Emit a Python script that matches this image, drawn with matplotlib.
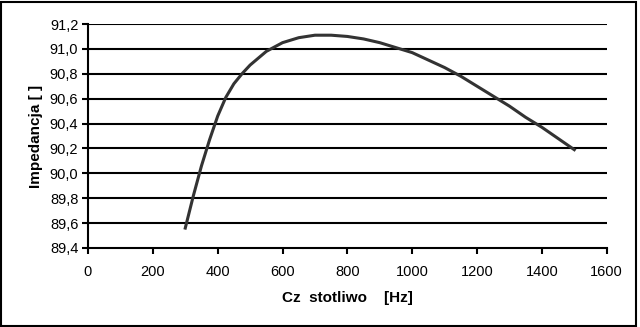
import matplotlib
matplotlib.use("Agg")
import matplotlib.pyplot as plt
from matplotlib.patches import Rectangle
from matplotlib.ticker import FuncFormatter

plt.rcParams['font.family'] = ['Liberation Sans', 'DejaVu Sans']

freq = [300, 325, 350, 375, 400, 425, 450, 475, 500, 550, 600, 650, 700, 750,
        800, 850, 900, 950, 1000, 1050, 1100, 1150, 1200, 1250, 1300, 1350,
        1400, 1450, 1500]
impedance = [89.56, 89.82, 90.06, 90.27, 90.46, 90.61, 90.72, 90.80, 90.87,
             90.98, 91.05, 91.09, 91.11, 91.11, 91.10, 91.08, 91.05, 91.01,
             90.97, 90.91, 90.85, 90.78, 90.70, 90.62, 90.54, 90.45, 90.37,
             90.28, 90.19]
x_ticks = [0, 200, 400, 600, 800, 1000, 1200, 1400, 1600]
y_ticks = [89.4, 89.6, 89.8, 90.0, 90.2, 90.4, 90.6, 90.8, 91.0, 91.2]

fig = plt.figure(figsize=(6.4, 3.27), dpi=100)
ax = fig.add_axes([0.1375, 0.2416, 0.8105, 0.685])

for yv in y_ticks[1:]:
    ax.axhline(yv, color='black', lw=1.5, zorder=1)

ax.plot(freq, impedance, color='#333333', lw=2.2, zorder=3)

ax.set_xlim(0, 1600)
ax.set_ylim(89.4, 91.2)
ax.set_xticks(x_ticks)
ax.set_yticks(y_ticks)
ax.yaxis.set_major_formatter(FuncFormatter(lambda v, p: f"{v:.1f}".replace('.', ',')))
ax.tick_params(axis='both', length=4, width=1.5, labelsize=10.5, color='black')
ax.tick_params(axis='x', pad=8)
ax.tick_params(axis='y', pad=3)

for side in ('top', 'right'):
    ax.spines[side].set_visible(False)
for side in ('left', 'bottom'):
    ax.spines[side].set_linewidth(1.5)

ax.set_xlabel("Cz  stotliwo    [Hz]", fontsize=11, fontweight='bold', labelpad=9)
ax.set_ylabel("Impedancja [ ]", fontsize=11, fontweight='bold', labelpad=5)

fig.patches.append(Rectangle((0.002, 0.004), 0.991, 0.99, transform=fig.transFigure,
                             fill=False, edgecolor='black', lw=1.5))

fig.savefig("out.png", dpi=100)
